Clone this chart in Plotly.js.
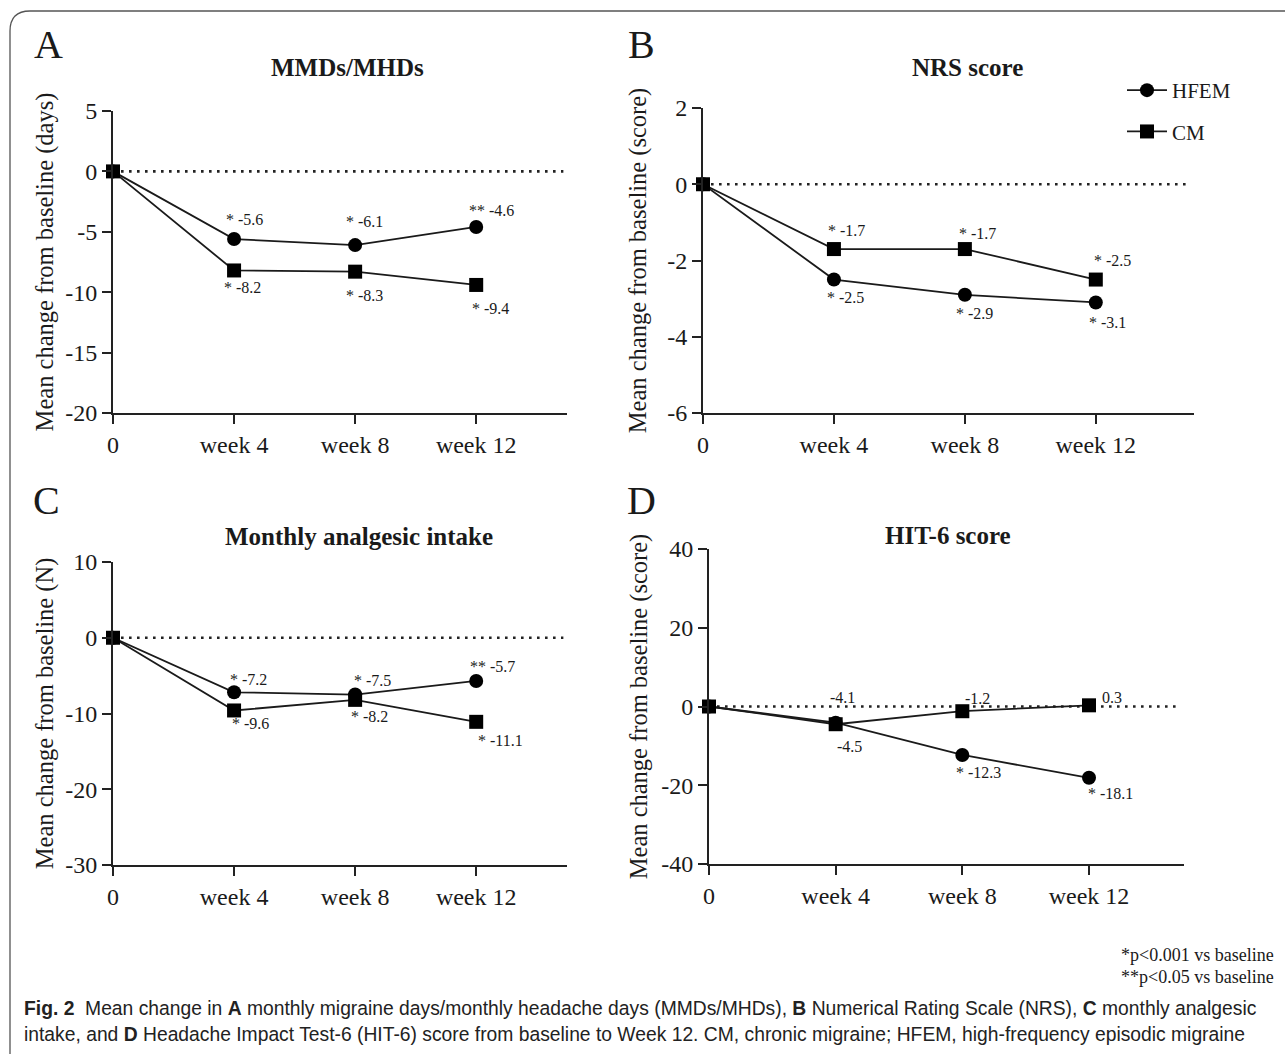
<!DOCTYPE html>
<html><head><meta charset="utf-8">
<script src="https://cdn.plot.ly/plotly-3.0.1.min.js"></script>
<style>html,body{margin:0;padding:0;background:#fff}#chart{width:1285px;height:1054px}</style>
</head><body><div id="chart"></div>
<script>
// ---------- data ----------
const weeks = ["0", "week 4", "week 8", "week 12"];
const seriesNames = ["HFEM", "CM"];

// A: MMDs/MHDs
const mmdHFEM = [0, -5.6, -6.1, -4.6];
const mmdCM   = [0, -8.2, -8.3, -9.4];
const mmdSigHFEM = ["", "*", "*", "**"];
const mmdSigCM   = ["", "*", "*", "*"];
const mmdTicks = [5, 0, -5, -10, -15, -20];

// B: NRS score
const nrsHFEM = [0, -2.5, -2.9, -3.1];
const nrsCM   = [0, -1.7, -1.7, -2.5];
const nrsSigHFEM = ["", "*", "*", "*"];
const nrsSigCM   = ["", "*", "*", "*"];
const nrsTicks = [2, 0, -2, -4, -6];

// C: Monthly analgesic intake
const anaHFEM = [0, -7.2, -7.5, -5.7];
const anaCM   = [0, -9.6, -8.2, -11.1];
const anaSigHFEM = ["", "*", "*", "**"];
const anaSigCM   = ["", "*", "*", "*"];
const anaTicks = [10, 0, -10, -20, -30];

// D: HIT-6 score
const hitHFEM = [0, -4.1, -12.3, -18.1];
const hitCM   = [0, -4.5, -1.2, 0.3];
const hitSigHFEM = ["", "", "*", "*"];
const hitSigCM   = ["", "", "", ""];
const hitTicks = [40, 20, 0, -20, -40];

const panelLetters = ["A", "B", "C", "D"];
const panelTitles = ["MMDs/MHDs", "NRS score", "Monthly analgesic intake", "HIT-6 score"];
const yTitles = ["Mean change from baseline (days)", "Mean change from baseline (score)",
                 "Mean change from baseline (N)", "Mean change from baseline (score)"];
const footnotes = ["*p<0.001 vs baseline", "**p<0.05 vs baseline"];
const captionLines = [
  "<b>Fig. 2</b>\u00a0\u00a0Mean change in <b>A</b> monthly migraine days/monthly headache days (MMDs/MHDs), <b>B</b> Numerical Rating Scale (NRS), <b>C</b> monthly analgesic",
  "intake, and <b>D</b> Headache Impact Test-6 (HIT-6) score from baseline to Week 12. CM, chronic migraine; HFEM, high-frequency episodic migraine"
];

// ---------- layout helpers (positions / styles) ----------
const W = 1285, H = 1054;
const px = x => x / W, py = y => 1 - y / H;
const SERIF = "Liberation Serif, Times New Roman, serif";
const INK = "#1a1a1a";

const panels = [
  {hf: mmdHFEM, cm: mmdCM, sh: mmdSigHFEM, sc: mmdSigCM, ticks: mmdTicks, box: {l:113, r:567, t:111, b:413},
   title: [347, 68], letter: [48, 44], standoff: 5,
   offH: [[0,0],[10,20],[9,24],[15,16]], offC: [[0,0],[8,-17],[9,-24],[14,-24]]},
  {hf: nrsHFEM, cm: nrsCM, sh: nrsSigHFEM, sc: nrsSigCM, ticks: nrsTicks, box: {l:703, r:1194, t:108, b:413},
   title: [967, 68], letter: [641, 44], standoff: 14,
   offH: [[0,0],[12,-18],[10,-19],[12,-20]], offC: [[0,0],[13,19],[13,16],[17,19]]},
  {hf: anaHFEM, cm: anaCM, sh: anaSigHFEM, sc: anaSigCM, ticks: anaTicks, box: {l:113, r:567, t:562, b:865},
   title: [359, 536], letter: [46, 500], standoff: 5,
   offH: [[0,0],[14,13],[17,14],[16,14]], offC: [[0,0],[16,-13],[14,-17],[24,-19]]},
  {hf: hitHFEM, cm: hitCM, sh: hitSigHFEM, sc: hitSigCM, ticks: hitTicks, box: {l:709, r:1184, t:549, b:864},
   title: [948, 535], letter: [641, 500], standoff: 7,
   offH: [[0,0],[7,25],[16,-18],[21,-16]], offC: [[0,0],[14,-22],[15,13],[23,8]]}
];

const traces = [], annotations = [], shapes = [];
const layout = {
  width: W, height: H, margin: {l:0, r:0, t:0, b:0},
  paper_bgcolor: "#fff", plot_bgcolor: "rgba(0,0,0,0)",
  font: {family: SERIF, color: INK},
  showlegend: true,
  legend: {x: px(1122), y: py(70), xanchor: "left", yanchor: "top", itemwidth: 40,
           font: {family: SERIF, size: 21, color: INK}, bgcolor: "rgba(0,0,0,0)",
           traceorder: "grouped", tracegroupgap: 11},
  annotations, shapes
};

const fmt = v => v.toFixed(1);

panels.forEach((p, k) => {
  const n = k === 0 ? "" : String(k + 1);
  const xa = "x" + n, ya = "y" + n;
  const b = p.box;
  const yr = [Math.min(...p.ticks), Math.max(...p.ticks)];
  layout["xaxis" + n] = {
    domain: [px(b.l), px(b.r)], anchor: ya, type: "category", range: [0, 3.75],
    showline: true, linewidth: 2, linecolor: "#222", ticks: "outside", ticklen: 9,
    tickwidth: 2, tickcolor: "#222", showgrid: false, zeroline: false,
    tickfont: {family: SERIF, size: 24, color: INK}, fixedrange: true
  };
  layout["yaxis" + n] = {
    domain: [py(b.b), py(b.t)], anchor: xa, range: yr,
    tickvals: p.ticks, ticktext: p.ticks.map(String),
    showline: true, linewidth: 2, linecolor: "#222", ticks: "outside", ticklen: 9,
    tickwidth: 2, tickcolor: "#222", showgrid: false, zeroline: false,
    tickfont: {family: SERIF, size: 24, color: INK}, fixedrange: true,
    title: {text: yTitles[k], font: {family: SERIF, size: 24.5, color: INK}, standoff: p.standoff}
  };
  // zero reference line
  shapes.push({type: "line", xref: xa, yref: ya, x0: 0, x1: 3.72, y0: 0, y1: 0, layer: "below",
               line: {color: "#222", width: 2.6, dash: "2.6px,5.4px"}});
  // series
  [[p.hf, "circle", 0], [p.cm, "square", 1]].forEach(([vals, sym, s]) => {
    traces.push({
      type: "scatter", mode: "lines+markers", x: weeks, y: vals, xaxis: xa, yaxis: ya,
      name: seriesNames[s], legendgroup: seriesNames[s], showlegend: k === 1,
      cliponaxis: false,
      line: {color: "#1a1a1a", width: 1.8},
      marker: {symbol: sym, size: 14, color: "#000", line: {width: 0}}
    });
  });
  // value labels
  const lab = (vals, sigs, offs) => vals.forEach((v, i) => {
    if (i === 0) return;
    annotations.push({xref: xa, yref: ya, x: weeks[i], y: v, showarrow: false,
      text: (sigs[i] ? sigs[i] + " " : "") + fmt(v),
      xshift: offs[i][0], yshift: offs[i][1],
      font: {family: SERIF, size: 16, color: INK}});
  });
  lab(p.hf, p.sh, p.offH);
  lab(p.cm, p.sc, p.offC);
  // panel title & letter
  annotations.push({xref: "paper", yref: "paper", x: px(p.title[0]), y: py(p.title[1]), showarrow: false,
    xanchor: "center", yanchor: "middle", text: "<b>" + panelTitles[k] + "</b>",
    font: {family: SERIF, size: 25, color: INK}});
  annotations.push({xref: "paper", yref: "paper", x: px(p.letter[0]), y: py(p.letter[1]), showarrow: false,
    xanchor: "center", yanchor: "middle", text: panelLetters[k],
    font: {family: SERIF, size: 40, color: INK}});
});

// footnotes
footnotes.forEach((t, i) => annotations.push({xref: "paper", yref: "paper", x: px(1276), y: py(955 + 22 * i),
  xanchor: "right", yanchor: "middle", showarrow: false, text: t.replace(/</g, "&lt;"),
  font: {family: SERIF, size: 18, color: INK}}));
// caption
captionLines.forEach((t, i) => annotations.push({xref: "paper", yref: "paper", x: px(22), y: py(1008 + 26 * i),
  xanchor: "left", yanchor: "middle", showarrow: false, text: t,
  font: {family: "Liberation Sans, Arial, sans-serif", size: 19.3, color: "#222"}}));

// rounded frame
shapes.push({type: "path", xref: "paper", yref: "paper", layer: "below",
  path: `M ${px(10)},${py(1080)} L ${px(10)},${py(31)} Q ${px(10)},${py(11)} ${px(30)},${py(11)} L ${px(1300)},${py(11)}`,
  line: {color: "#555", width: 1.3}});

Plotly.newPlot("chart", traces, layout, {displayModeBar: false, staticPlot: true});
</script>
</body></html>
